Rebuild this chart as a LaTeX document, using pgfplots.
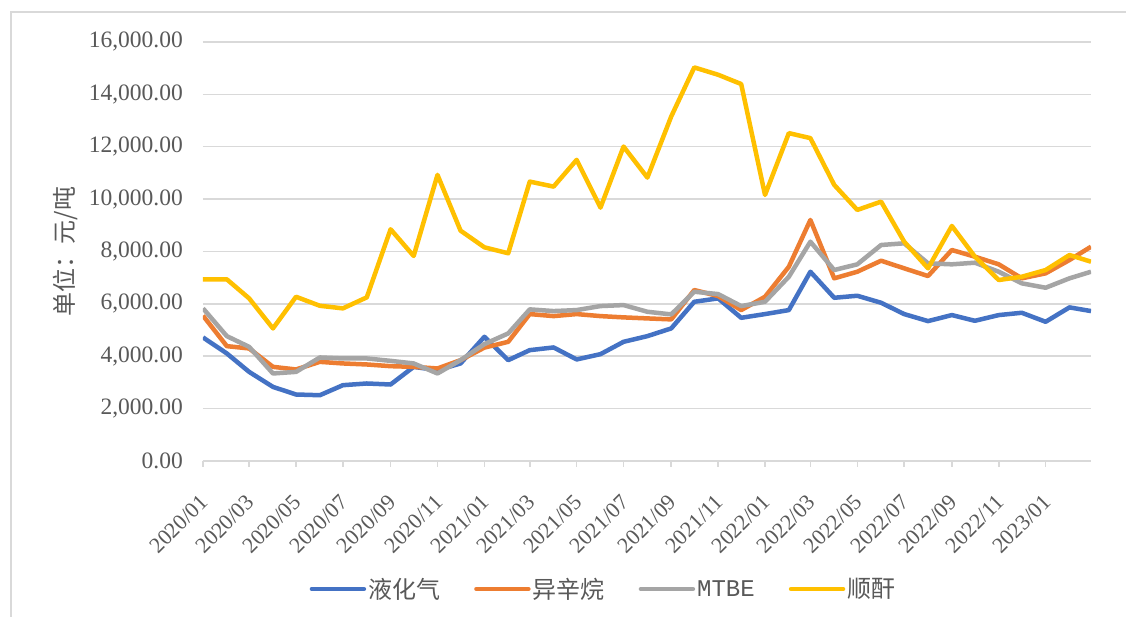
\documentclass[border=0pt]{standalone}
\usepackage{pgfplots}
\pgfplotsset{compat=1.18}
\usepackage{pgfplotstable}
\usepackage{fontspec}
\setmainfont{Liberation Serif}
\setmonofont{Liberation Mono}
\newfontfamily\cjk{Noto Sans CJK SC}
\definecolor{cblue}{HTML}{4472C4}
\definecolor{corange}{HTML}{ED7D31}
\definecolor{cgray}{HTML}{A5A5A5}
\definecolor{cyellow}{HTML}{FFC000}
\definecolor{gridc}{HTML}{D9D9D9}
\definecolor{textc}{HTML}{595959}

% x = days since 2020-01-01 (date axis), one row per month 2020/01 .. 2023/03
\pgfplotstableread{
x    lpg   iso   mtbe  ma
0    4718  5550  5828  6937
31   4107  4386  4768  6937
60   3403  4298  4359  6210
91   2830  3595  3342  5063
121  2539  3495  3403  6271
152  2512  3786  3954  5927
182  2895  3725  3916  5828
213  2960  3686  3916  6248
244  2921  3621  3824  8849
274  3595  3595  3725  7828
305  3468  3533  3342  10925
335  3725  3851  3851  8796
366  4742  4330  4463  8160
397  3851  4551  4872  7931
425  4233  5610  5790  10669
456  4336  5533  5725  10478
486  3878  5610  5763  11499
517  4080  5533  5916  9675
547  4551  5484  5954  12007
578  4768  5445  5698  10822
609  5063  5407  5598  13155
639  6080  6528  6463  15029
670  6210  6298  6374  14749
700  5468  5763  5916  14394
731  5610  6271  6080  10160
762  5763  7419  7036  12520
790  7227  9204  8374  12329
821  6233  6975  7292  10543
851  6310  7227  7510  9587
882  6042  7648  8248  9904
912  5610  7357  8313  8374
943  5342  7063  7548  7357
974  5572  8057  7510  8975
1004 5354  7801  7572  7801
1035 5572  7510  7227  6910
1065 5660  6975  6784  7036
1096 5316  7166  6616  7292
1127 5866  7675  6975  7866
1155 5725  8183  7227  7610
}\pricedata

\begin{document}
\begin{tikzpicture}
\useasboundingbox (-203pt,-156pt) rectangle (923pt,461pt);
\fill[white] (-203pt,-156pt) rectangle (923pt,461pt);
\draw[gridc, line width=1.5pt] (-192pt,-160pt) -- (-192pt,449pt) -- (930pt,449pt);
\begin{axis}[
  at={(0pt,0pt)}, anchor=south west,
  scale only axis,
  width=888pt, height=419pt,
  xmin=0, xmax=1155, ymin=0, ymax=16000,
  axis x line*=bottom, axis y line*=left,
  x axis line style={draw=gridc, line width=1.5pt, -},
  y axis line style={draw=none},
  xtick={0,60,121,182,244,305,366,425,486,547,609,670,731,790,851,912,974,1035,1096},
  xticklabels={2020/01,2020/03,2020/05,2020/07,2020/09,2020/11,2021/01,2021/03,2021/05,2021/07,2021/09,2021/11,2022/01,2022/03,2022/05,2022/07,2022/09,2022/11,2023/01},
  ytick={0,2000,...,16000},
  tick align=outside,
  major tick length=6pt,
  xtick style={draw=gridc, line width=1.5pt},
  ytick style={draw=none},
  ymajorgrids,
  grid style={draw=gridc, line width=1.5pt},
  scaled y ticks=false,
  yticklabel style={/pgf/number format/.cd, fixed, fixed zerofill, precision=2, 1000 sep={,}, assume math mode=true, /tikz/.cd,
    font=\fontsize{23.5}{28}\selectfont, text=textc, anchor=east, inner sep=0pt, xshift=-14pt},
  xticklabel style={font=\fontsize{22}{26}\selectfont, text=textc, xshift=-4pt, yshift=-26pt, rotate=45, anchor=north east, inner sep=0pt},
  ylabel={{\cjk 单位：元/吨}},
  ylabel style={at={(axis description cs:-0.1554,0.5)}, anchor=center, font=\fontsize{24}{28}\selectfont, text=textc},
  legend style={at={(axis description cs:0.4510,-0.3055)}, anchor=center, draw=none, fill=none,
    font=\fontsize{24}{28}\selectfont, text=textc,
    /tikz/every even column/.append style={column sep=32pt},
    /tikz/every odd column/.append style={column sep=0pt}},
  legend columns=4,
  legend image code/.code={\draw[#1, line width=4.5pt, line cap=round] (2.25pt,0pt) -- (54.25pt,0pt);},
  every axis plot/.append style={line width=4.5pt, line join=round, mark=none},
]
\addplot[cblue] table[x=x, y=lpg] {\pricedata};
\addlegendentry{{\cjk 液化气}}
\addplot[corange] table[x=x, y=iso] {\pricedata};
\addlegendentry{{\cjk 异辛烷}}
\addplot[cgray] table[x=x, y=mtbe] {\pricedata};
\addlegendentry{{\ttfamily MTBE}}
\addplot[cyellow] table[x=x, y=ma] {\pricedata};
\addlegendentry{{\cjk 顺酐}}
\end{axis}
\end{tikzpicture}
\end{document}
